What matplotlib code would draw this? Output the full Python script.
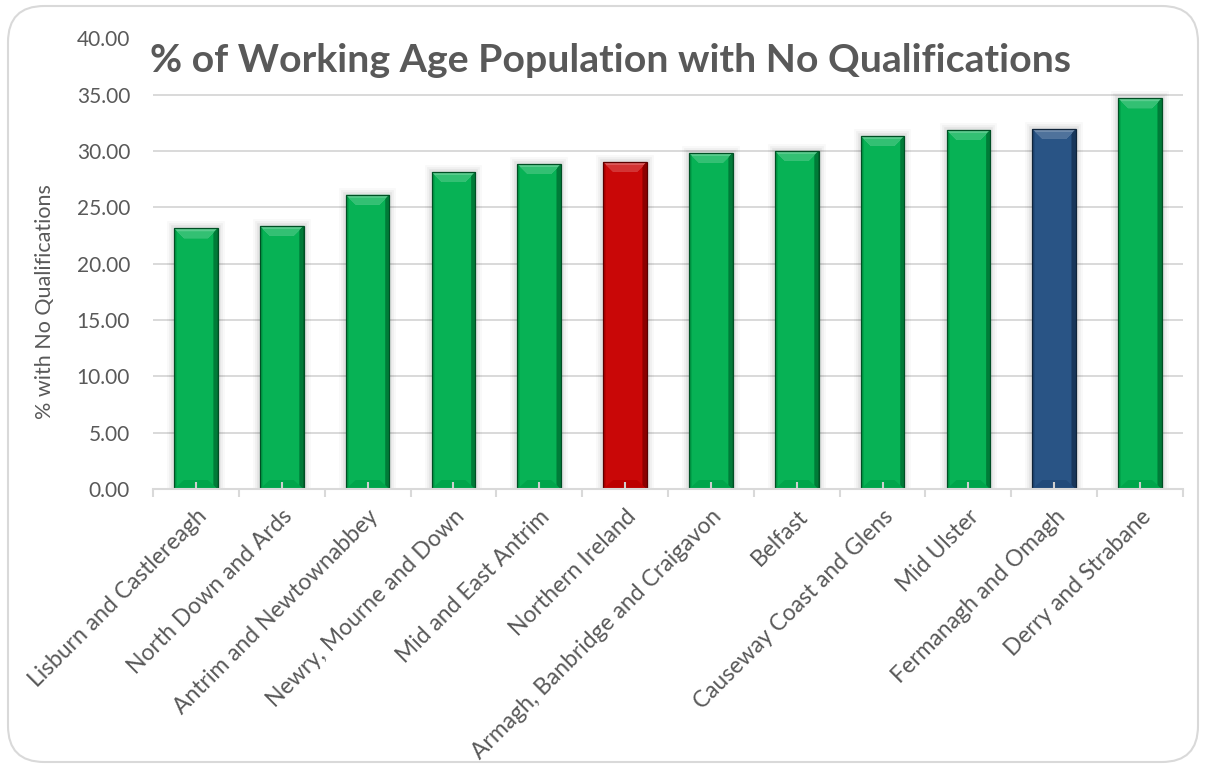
import numpy as np
import matplotlib
matplotlib.use("Agg")
import matplotlib.pyplot as plt
from matplotlib.colors import to_rgb
from matplotlib.patches import FancyBboxPatch, Polygon
import matplotlib.patheffects as pe

# ---- data -------------------------------------------------------------
areas = [
    "Lisburn and Castlereagh",
    "North Down and Ards",
    "Antrim and Newtownabbey",
    "Newry, Mourne and Down",
    "Mid and East Antrim",
    "Northern Ireland",
    "Armagh, Banbridge and Craigavon",
    "Belfast",
    "Causeway Coast and Glens",
    "Mid Ulster",
    "Fermanagh and Omagh",
    "Derry and Strabane",
]
pct_no_quals = [23.15, 23.36, 26.13, 28.15, 28.86, 29.04, 29.84, 30.02,
                31.35, 31.88, 31.97, 34.70]
y_ticks = [0, 5, 10, 15, 20, 25, 30, 35, 40]

title = "% of Working Age Population with No Qualifications"
y_label = "% with No Qualifications"

# ---- styling ----------------------------------------------------------
GREEN = "#00b050"
highlight = {"Northern Ireland": "#c80000", "Fermanagh and Omagh": "#234f82"}
TEXT = "#595959"
GRID = "#d9d9d9"

plt.rcParams["font.family"] = ["Lato", "DejaVu Sans"]

W, H, DPI = 1206, 771, 100
fig = plt.figure(figsize=(W / DPI, H / DPI), dpi=DPI)
fig.patch.set_facecolor("white")

# rounded chart border
fig.patches.append(FancyBboxPatch((8 / W, 9 / H), 1190 / W, 756 / H,
                                  boxstyle="round,pad=0,rounding_size=0.03",
                                  transform=fig.transFigure, fill=False,
                                  edgecolor="#d9d9d9", linewidth=1.5,
                                  mutation_aspect=W / H))

ax = fig.add_axes([153 / W, 1 - 489 / H, 1030 / W, 450.5 / H])
x = np.arange(len(areas))
ax.set_xlim(-0.5, len(areas) - 0.5)
ax.set_ylim(y_ticks[0], y_ticks[-1])

# horizontal gridlines
ax.hlines(y_ticks[1:], -0.5, len(areas) - 0.5, colors=GRID, linewidth=1.4,
          zorder=0.5)

colors = [highlight.get(a, GREEN) for a in areas]
shadow = [pe.Stroke(linewidth=10, foreground="k", alpha=0.025),
          pe.Stroke(linewidth=7, foreground="k", alpha=0.035),
          pe.Stroke(linewidth=4, foreground="k", alpha=0.05),
          pe.Normal()]
bars = ax.bar(x, pct_no_quals, width=0.51, color=colors, zorder=1,
              linewidth=0)
for b in bars:
    b.set_path_effects(shadow)


def mix(c, other, t):
    c, o = np.array(to_rgb(c)), np.array(to_rgb(other))
    return c * (1 - t) + o * t


# px -> data conversion for bevel sizes
px_x = (len(areas)) / 1030.0
px_y = (y_ticks[-1] - y_ticks[0]) / 450.5

for b, col in zip(bars, colors):
    x0, w, h = b.get_x(), b.get_width(), b.get_height()
    x1 = x0 + w
    # horizontal shading across the bar body
    n = 64
    t = np.linspace(0, 1, n)
    shade = np.zeros((1, n, 3))
    for i, ti in enumerate(t):
        if ti < 0.06:
            shade[0, i] = mix(col, "black", 0.18 - ti * 2)
        elif ti > 0.90:
            shade[0, i] = mix(col, "black", 0.15 + (ti - 0.90) * 4.5)
        else:
            shade[0, i] = mix(col, "white", 0.03)
    im = ax.imshow(shade, extent=(x0, x1, 0, h), aspect="auto",
                   interpolation="bilinear", zorder=1.2)
    im.set_clip_path(b)
    # top bevel
    d, bh = 10 * px_x, 10 * px_y
    ax.add_patch(Polygon([(x0, h), (x1, h), (x1 - d, h - bh), (x0 + d, h - bh)],
                         closed=True, facecolor=mix(col, "white", 0.36),
                         edgecolor="none", zorder=1.3))
    ax.add_patch(Polygon([(x0 + 3 * px_x, h - 3 * px_y), (x1 - 3 * px_x, h - 3 * px_y),
                          (x1 - d, h - bh), (x0 + d, h - bh)],
                         closed=True, facecolor=mix(col, "white", 0.20),
                         edgecolor="none", zorder=1.31))
    # right side bevel (darker)
    ax.add_patch(Polygon([(x1, h), (x1, 0), (x1 - d * 0.4, bh * 0.4),
                          (x1 - d * 0.4, h - bh * 0.4)],
                         closed=True, facecolor=mix(col, "black", 0.30),
                         edgecolor="none", zorder=1.32))
    # bottom bevel
    ax.add_patch(Polygon([(x0, 0), (x1, 0), (x1 - d, bh * 0.9), (x0 + d, bh * 0.9)],
                         closed=True, facecolor=mix(col, "black", 0.06),
                         edgecolor="none", zorder=1.31))
    # outline
    ax.add_patch(plt.Rectangle((x0, 0), w, h, fill=False,
                               edgecolor=mix(col, "black", 0.55),
                               linewidth=0.9, zorder=1.4))

# axes styling
for s in ("top", "right", "left"):
    ax.spines[s].set_visible(False)
ax.spines["bottom"].set_color(GRID)
ax.spines["bottom"].set_linewidth(1.5)
ax.spines["bottom"].set_zorder(3)
ax.set_axisbelow(False)

ax.set_yticks(y_ticks)
ax.set_yticklabels([f"{v:.2f}" for v in y_ticks], color=TEXT, fontsize=15)
ax.tick_params(axis="y", length=0, pad=16.5)

ax.set_xticks(x)
ax.set_xticklabels(areas, rotation=45, ha="right", rotation_mode="anchor",
                   color=TEXT, fontsize=16.5)
ax.tick_params(axis="x", which="major", direction="in", length=5,
               color="#cfcfcf", width=1.5, pad=12)
ax.set_xticks(np.arange(len(areas) + 1) - 0.5, minor=True)
ax.tick_params(axis="x", which="minor", direction="out", length=6,
               color=GRID, width=1.5)

fig.text(45 / W, 1 - 302 / H, y_label, rotation=90, ha="center", va="center",
         color=TEXT, fontsize=15.5)

# title, sized to span its line
t = fig.text(150 / W, 1 - 72 / H, title, ha="left", va="baseline",
             color=TEXT, fontsize=28, fontweight="bold")
fig.canvas.draw()
bb = t.get_window_extent()
t.set_fontsize(28 * 920 / bb.width)

fig.savefig("out.png", dpi=DPI)
